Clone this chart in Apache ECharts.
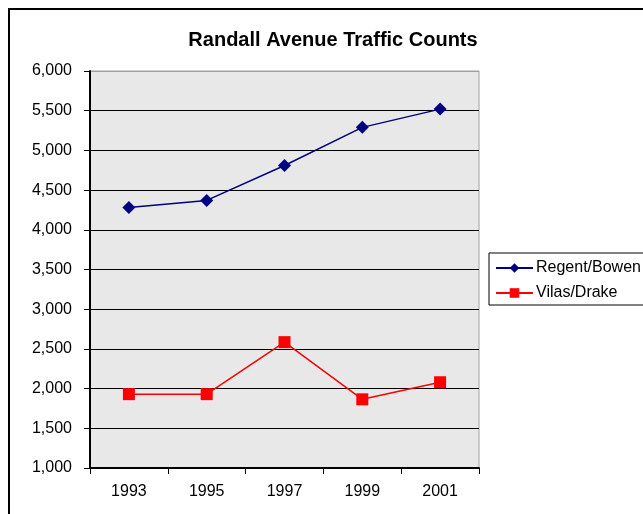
<!DOCTYPE html>
<html>
<head>
<meta charset="utf-8">
<script src="https://cdn.jsdelivr.net/npm/echarts@6/dist/echarts.min.js"></script>
<style>html,body{margin:0;padding:0;background:#fff}#c{width:643px;height:514px}</style>
</head>
<body>
<div id="c"></div>
<script>
var years = ['1993', '1995', '1997', '1999', '2001'];
var regentBowen = [4280, 4370, 4810, 5290, 5520];
var vilasDrake = [1930, 1930, 2585, 1865, 2080];
var yTicks = { min: 1000, max: 6000, interval: 500 };

var font = 'Liberation Sans, Arial, sans-serif';
var chart = echarts.init(document.getElementById('c'), null, { renderer: 'canvas' });
var splitColors = [];
for (var i = 0; i < 11; i++) splitColors.push(i === 10 ? '#a0a0a0' : '#000');
chart.setOption({
  animation: false,
  backgroundColor: '#fff',
  graphic: [{
    type: 'rect', shape: { x: 9, y: 9, width: 700, height: 600 },
    style: { fill: null, stroke: '#000', lineWidth: 2 }, z: -1
  }],
  title: {
    text: 'Randall Avenue Traffic Counts',
    left: 328, textAlign: 'center', top: 25,
    textStyle: { fontFamily: font, fontSize: 20, fontWeight: 'bold', color: '#000' }
  },
  grid: {
    left: 90, right: 164, top: 71, bottom: 46,
    show: true, backgroundColor: '#e8e8e8', borderColor: '#a0a0a0', borderWidth: 1
  },
  legend: {
    orient: 'vertical', left: 489, top: 253,
    padding: [7, 24, 4, 6], itemGap: 9,
    itemWidth: 37, itemHeight: 12,
    borderColor: '#000', borderWidth: 1, backgroundColor: '#fff',
    textStyle: { fontFamily: font, fontSize: 16, lineHeight: 16, color: '#000', padding: [0, 0, 0, -2] },
    data: ['Regent/Bowen', 'Vilas/Drake']
  },
  xAxis: {
    type: 'category', data: years, boundaryGap: true,
    axisLine: { lineStyle: { color: '#000', width: 2 } },
    axisTick: { show: true, length: 6, alignWithLabel: false, lineStyle: { color: '#000', width: 1 } },
    axisLabel: { fontFamily: font, fontSize: 16, color: '#000', margin: 16 },
    splitLine: { show: false }
  },
  yAxis: {
    type: 'value', min: yTicks.min, max: yTicks.max, interval: yTicks.interval,
    axisLine: { show: true, lineStyle: { color: '#000', width: 2 } },
    axisTick: { show: true, length: 6, lineStyle: { color: '#000' } },
    axisLabel: {
      fontFamily: font, fontSize: 16, color: '#000', margin: 18,
      formatter: function (v) { return v.toLocaleString('en-US'); }
    },
    splitLine: { show: true, lineStyle: { color: splitColors, width: 1 } }
  },
  series: [{
    name: 'Regent/Bowen', type: 'line', data: regentBowen,
    symbol: 'diamond', symbolSize: 13,
    lineStyle: { color: '#000080', width: 1.5 },
    itemStyle: { color: '#000080' }
  }, {
    name: 'Vilas/Drake', type: 'line', data: vilasDrake,
    symbol: 'rect', symbolSize: 12,
    lineStyle: { color: '#ff0000', width: 1.5 },
    itemStyle: { color: '#ff0000' }
  }]
});
</script>
</body>
</html>
